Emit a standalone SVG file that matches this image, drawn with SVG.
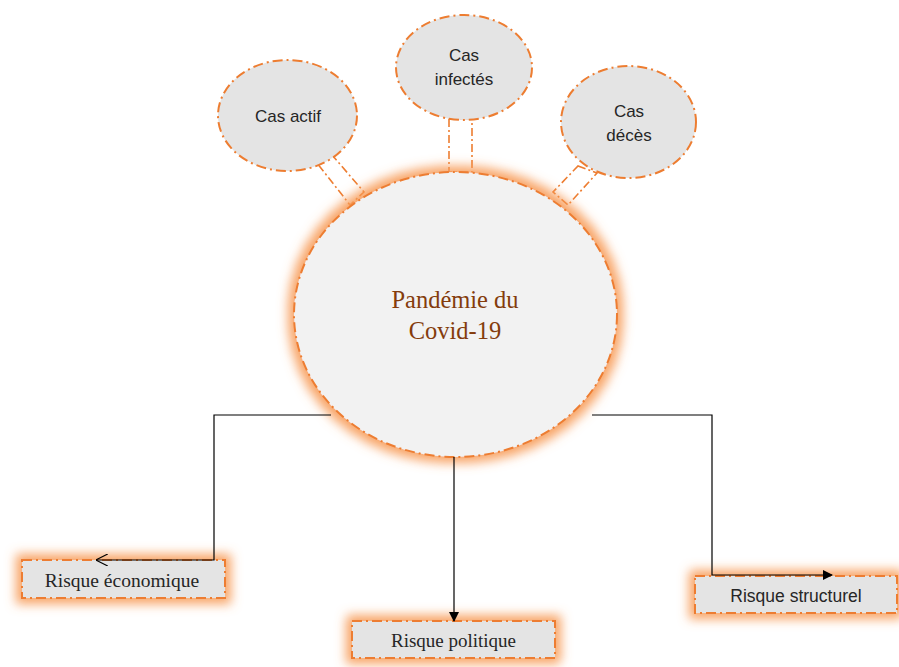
<svg xmlns="http://www.w3.org/2000/svg" width="899" height="667" viewBox="0 0 899 667">
<defs>
<filter id="glow" x="-30%" y="-80%" width="160%" height="260%">
<feMorphology in="SourceAlpha" operator="dilate" radius="5" result="d"/>
<feGaussianBlur in="d" stdDeviation="5.5" result="b"/>
<feFlood flood-color="#f79a55" flood-opacity="0.9"/>
<feComposite in2="b" operator="in" result="g"/>
<feMerge><feMergeNode in="g"/><feMergeNode in="SourceGraphic"/></feMerge>
</filter>
<marker id="arrF" viewBox="0 0 10 10" refX="9" refY="5" markerWidth="10" markerHeight="10" markerUnits="userSpaceOnUse" orient="auto">
<path d="M0,0 L10,5 L0,10 z" fill="#000"/>
</marker>
<marker id="arrO" viewBox="0 0 10 10" refX="9" refY="5" markerWidth="12" markerHeight="12" markerUnits="userSpaceOnUse" orient="auto">
<path d="M0,0 L10,5 L0,10" fill="none" stroke="#000" stroke-width="1"/>
</marker>
<style>
.dd{stroke:#ed7d31;stroke-width:2;stroke-dasharray:10 4 2 4;}
.sm{fill:#e4e4e4;}
.box{fill:#e4e4e4;}
.link{fill:#fff;stroke:#ed7d31;stroke-width:1.6;stroke-dasharray:8 3 2 3;}
.sans{font-family:"Liberation Sans",Arial,sans-serif;fill:#262626;text-anchor:middle;}
.serif{font-family:"Liberation Serif","Times New Roman",serif;fill:#262626;text-anchor:middle;}
.con{fill:none;stroke:#000;stroke-width:1.2;}
</style>
</defs>

<g id="links">
<polygon class="link" points="317,163 332,155 364,192 350,205"/>
<polygon class="link" points="449,119 472,119 472,172 449,172"/>
<polygon class="link" points="578,166 597,173 568,205 553,192"/>
</g>

<g id="pandemie">
<ellipse cx="455.5" cy="314.5" rx="161.5" ry="142.5" fill="#f2f2f2" class="dd" filter="url(#glow)"/>
<text class="serif" x="455" y="308" font-size="24.5" style="fill:#843c0c">Pandémie du</text>
<text class="serif" x="455" y="339" font-size="24.5" style="fill:#843c0c">Covid-19</text>
</g>

<g id="cas-actif">
<ellipse class="sm dd" cx="287.5" cy="115.5" rx="69.5" ry="55.5"/>
<text class="sans" x="288" y="121.5" font-size="17">Cas actif</text>
</g>

<g id="cas-infectes">
<ellipse class="sm dd" cx="464" cy="67.5" rx="68" ry="52.5"/>
<text class="sans" x="464" y="61" font-size="17">Cas</text>
<text class="sans" x="464" y="85" font-size="17">infectés</text>
</g>

<g id="cas-deces">
<ellipse class="sm dd" cx="628.5" cy="122" rx="67.5" ry="56"/>
<text class="sans" x="629" y="116.5" font-size="17">Cas</text>
<text class="sans" x="629" y="140.5" font-size="17">décès</text>
</g>

<g id="risque-economique">
<rect class="box dd" x="22" y="560" width="203" height="38" filter="url(#glow)"/>
<text class="serif" x="122" y="586.5" font-size="19.5">Risque économique</text>
</g>

<g id="risque-politique">
<rect class="box dd" x="352" y="621" width="203" height="37" filter="url(#glow)"/>
<text class="serif" x="453.5" y="647" font-size="19">Risque politique</text>
</g>

<g id="risque-structurel">
<rect class="box dd" x="695" y="576" width="202" height="37" filter="url(#glow)"/>
<text class="sans" x="796" y="602" font-size="17.5">Risque structurel</text>
</g>

<g id="connectors">
<polyline class="con" points="331,415 214,415 214,560 97,560" marker-end="url(#arrO)"/>
<line class="con" x1="454" y1="457" x2="454" y2="621" marker-end="url(#arrF)"/>
<polyline class="con" points="592,415 712,415 712,575 832,575" marker-end="url(#arrF)"/>
</g>
</svg>
